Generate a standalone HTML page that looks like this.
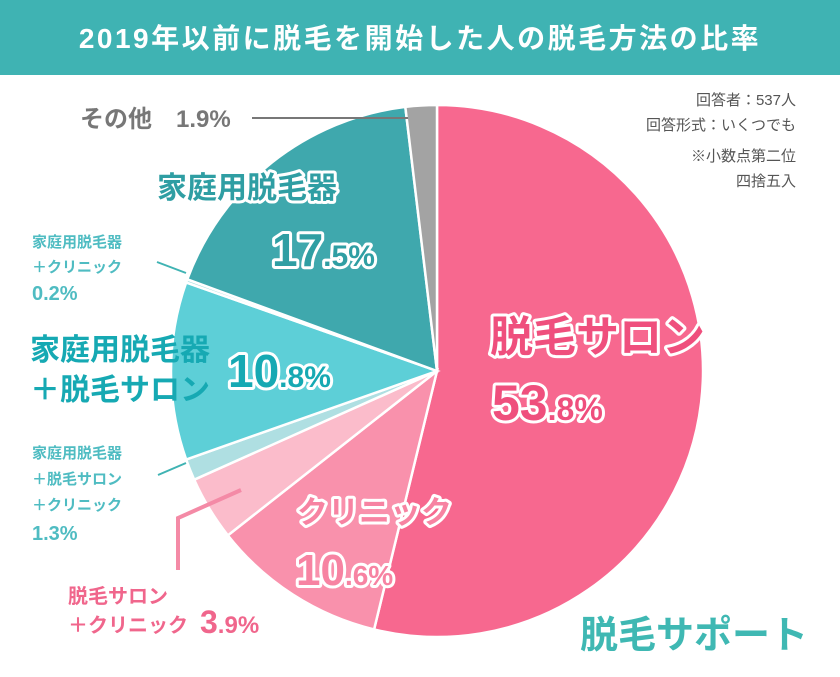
<!DOCTYPE html>
<html><head><meta charset="utf-8">
<style>
body{margin:0;width:840px;height:672px;overflow:hidden;background:#fff;font-family:"Liberation Sans","Noto Sans CJK JP",sans-serif;}
svg text{font-family:"Liberation Sans","Noto Sans CJK JP",sans-serif;}
.st{paint-order:stroke;stroke:#fff;stroke-linejoin:round;}
</style></head><body>
<svg width="840" height="672" viewBox="0 0 840 672">
<rect x="0" y="0" width="840" height="75" fill="#3fb3b3"/>
<text x="420" y="48" text-anchor="middle" font-size="28" font-weight="bold" fill="#fff" letter-spacing="2.5">2019年以前に脱毛を開始した人の脱毛方法の比率</text>
<g id="slices"></g>
<g font-size="15" fill="#555" text-anchor="end">
<text x="796" y="105">回答者：537人</text>
<text x="796" y="130">回答形式：いくつでも</text>
<text x="796" y="161">※小数点第二位</text>
<text x="796" y="186">四捨五入</text>
</g>
<line x1="252" y1="118" x2="408" y2="118" stroke="#777" stroke-width="2"/>
<text x="80" y="127" font-size="24" font-weight="bold" fill="#777">その他　1.9%</text>
<text class="st" stroke-width="6" x="157" y="198" font-size="30" font-weight="bold" fill="#2f9ea3">家庭用脱毛器</text>
<text class="st" stroke-width="6" x="272" y="266" font-size="46" font-weight="bold" fill="#2f9ea3">17<tspan font-size="30">.5%</tspan></text>
<g font-size="16" font-weight="bold" fill="#4fbcc2">
<text x="32" y="247" font-size="15">家庭用脱毛器</text><text x="32" y="272" font-size="15">＋クリニック</text><text x="32" y="300" font-size="20">0.2%</text></g>
<line x1="157" y1="262" x2="186" y2="273" stroke="#3fb3b3" stroke-width="2"/>
<g font-size="30" font-weight="bold" fill="#16a9b3">
<text x="30" y="360">家庭用脱毛器</text><text x="30" y="400">＋脱毛サロン</text></g>
<text class="st" stroke-width="6" x="228" y="387" font-size="46" font-weight="bold" fill="#16a9b3">10<tspan font-size="30">.8%</tspan></text>
<g font-size="15" font-weight="bold" fill="#4fbcc2">
<text x="32" y="458">家庭用脱毛器</text><text x="32" y="484">＋脱毛サロン</text><text x="32" y="510">＋クリニック</text><text x="32" y="540" font-size="20">1.3%</text></g>
<line x1="158" y1="475" x2="186" y2="463" stroke="#3fb3b3" stroke-width="2"/>
<polyline points="241,490 178,518 178,570" fill="none" stroke="#f48aa6" stroke-width="4"/>
<g font-weight="bold" fill="#f0668c">
<text x="68" y="603" font-size="20">脱毛サロン</text><text x="68" y="632" font-size="20">＋クリニック</text>
<text x="200" y="633" font-size="32">3<tspan font-size="24">.9%</tspan></text></g>
<text class="st" stroke-width="6" x="297" y="523" font-size="31" font-weight="bold" fill="#f783a2">クリニック</text>
<text class="st" stroke-width="6" x="296" y="585" font-size="44" font-weight="bold" fill="#f783a2">10<tspan font-size="28">.6%</tspan></text>
<text class="st" stroke-width="6" x="490" y="352" font-size="43" font-weight="bold" fill="#ef4f7d">脱毛サロン</text>
<text class="st" stroke-width="6" x="492" y="420" font-size="50" font-weight="bold" fill="#ef4f7d">53<tspan font-size="32">.8%</tspan></text>
<text x="580" y="648" font-size="38" font-weight="bold" fill="#3fb8b3">脱毛サポート</text>
</svg>
<script>
const categories=["脱毛サロン","クリニック","脱毛サロン＋クリニック","家庭用＋サロン＋クリニック","家庭用＋脱毛サロン","家庭用＋クリニック","家庭用脱毛器","その他"];
const values=[53.8,10.6,3.9,1.3,10.8,0.2,17.5,1.9];
const colors=["#f7688f","#f991ac","#fbbccb","#afdfe2","#5dcfd7","#a9dfe2","#3fa8ad","#a3a3a3"];
const cx=437,cy=371,r=266;
const g=document.getElementById('slices');
const total=values.reduce((a,b)=>a+b,0);
let a0=0;
values.forEach((v,i)=>{
  const a1=a0+v/total*2*Math.PI;
  const x0=cx+r*Math.sin(a0),y0=cy-r*Math.cos(a0),x1=cx+r*Math.sin(a1),y1=cy-r*Math.cos(a1);
  const p=document.createElementNS('http://www.w3.org/2000/svg','path');
  p.setAttribute('d',`M${cx},${cy}L${x0},${y0}A${r},${r} 0 ${a1-a0>Math.PI?1:0} 1 ${x1},${y1}Z`);
  p.setAttribute('fill',colors[i]);
  p.setAttribute('stroke','#fff');
  p.setAttribute('stroke-width','2.5');
  
  
  g.appendChild(p);
  a0=a1;
});
</script>
</body></html>
